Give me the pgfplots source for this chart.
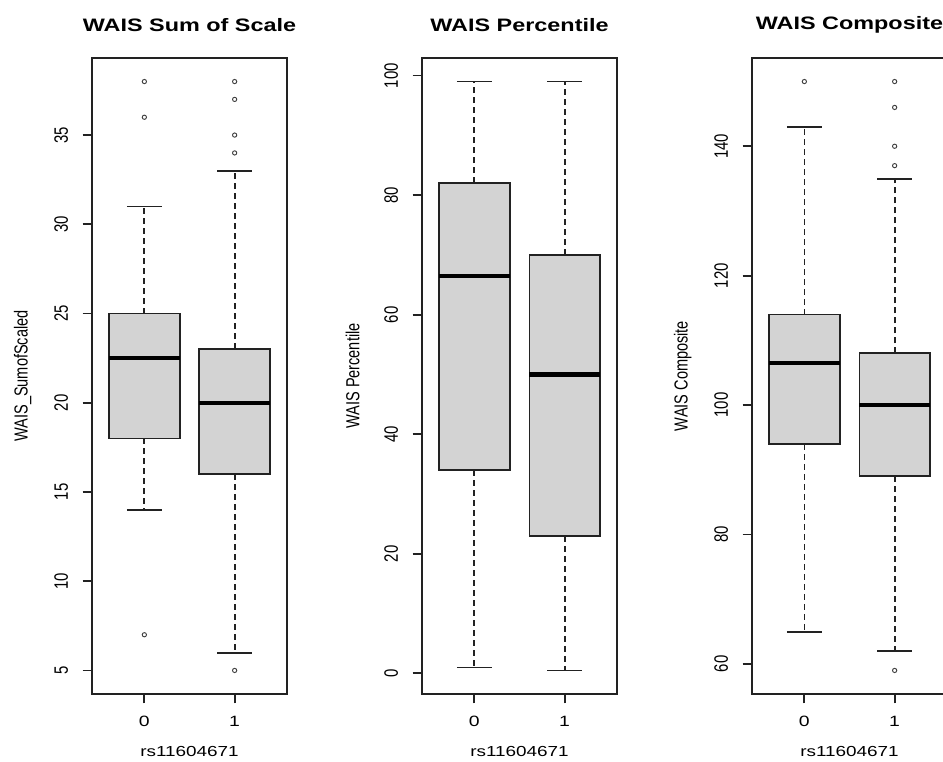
\documentclass[border=0pt]{standalone}
\usepackage{pgfplots}
\pgfplotsset{compat=1.18}
\usepackage{graphicx}
\usepackage{fontspec}
\setmainfont{Liberation Sans}
\definecolor{boxgray}{HTML}{D3D3D3}
\definecolor{framec}{HTML}{222222}
\newcommand{\hs}[1]{\scalebox{1.3}[1]{#1}}
\newcommand{\vs}[1]{\scalebox{1}[1.3]{#1}}

\pgfplotsset{
  rpanel/.style={
    scale only axis, width=146.25pt, height=477pt,
    anchor=south west,
    xmin=-0.58, xmax=1.58,
    xtick={0,1}, xticklabels={\hs{0},\hs{1}},
    tick pos=left, tick align=outside, major tick length=7pt,
    axis line style={line width=1.4pt, draw=framec},
    every tick/.style={line width=1.4pt, draw=framec},
    /pgf/number format/assume math mode=true,
    tick label style={font=\fontsize{11.2}{13}\selectfont},
    xticklabel style={yshift=-6pt},
    yticklabel={\vs{\pgfmathprintnumber{\tick}}},
    yticklabel style={xshift=-7.5pt, rotate=90, anchor=south},
    every axis title/.style={at={(axis description cs:0.5,1)}, anchor=center, yshift=24.75pt, font=\fontsize{13.5}{16}\selectfont\bfseries},
    every axis x label/.style={at={(axis description cs:0.5,0)}, anchor=center, yshift=-43.5pt, font=\fontsize{10.9}{13}\selectfont},
    every axis y label/.style={at={(axis description cs:0,0.5)}, rotate=90, anchor=center, yshift=52pt, font=\fontsize{10.9}{13}\selectfont},
    xlabel={\hs{rs11604671}},
  },
  boxst/.style={draw=framec, line width=1.4pt, fill=boxgray, line join=miter},
  medst/.style={draw=black, line width=3.2pt},
  whisk/.style={draw=framec, line width=1.3pt, dash pattern=on 4.5pt off 3pt},
  capst/.style={draw=framec, line width=1.4pt},
  outl/.style={only marks, mark=o, mark size=1.6pt, black!75, mark options={line width=0.7pt}},
}

% box at position #1: lower whisker #2, lower quartile #3, median #4, upper quartile #5, upper whisker #6
\newcommand{\rbox}[6]{%
  \pgfmathsetmacro\bL{#1-0.39}\pgfmathsetmacro\bR{#1+0.39}%
  \pgfmathsetmacro\kL{#1-0.195}\pgfmathsetmacro\kR{#1+0.195}%
  \edef\tmp{%
    \noexpand\addplot[boxst] coordinates {(\bL,#3) (\bR,#3) (\bR,#5) (\bL,#5)} --cycle;
    \noexpand\addplot[medst] coordinates {(\bL,#4) (\bR,#4)};
    \noexpand\addplot[whisk] coordinates {(#1,#5) (#1,#6)};
    \noexpand\addplot[whisk] coordinates {(#1,#3) (#1,#2)};
    \noexpand\addplot[capst] coordinates {(\kL,#6) (\kR,#6)};
    \noexpand\addplot[capst] coordinates {(\kL,#2) (\kR,#2)};
  }\tmp
}

\begin{document}
\begin{tikzpicture}
\useasboundingbox (0,0) rectangle (707.25pt,571.5pt);
\clip (0,0) rectangle (707.25pt,571.5pt);

% Panel 1
\begin{axis}[rpanel, at={(69pt,51pt)},
  ymin=3.68, ymax=39.32, ytick={5,10,15,20,25,30,35},
  title={\hs{WAIS Sum of Scale}}, ylabel={\vs{WAIS\_SumofScaled}}]
\rbox{0}{14}{18}{22.5}{25}{31}
\rbox{1}{6}{16}{20}{23}{33}
\addplot[outl] coordinates {(0,38) (0,36) (0,7) (1,38) (1,37) (1,35) (1,34) (1,5)};
\end{axis}

% Panel 2
\begin{axis}[rpanel, at={(316.5pt,51pt)},
  ymin=-3.44, ymax=102.94, ytick={0,20,40,60,80,100},
  title={\hs{WAIS Percentile}}, ylabel={\vs{WAIS Percentile}}]
\rbox{0}{1}{34}{66.5}{82}{99}
\rbox{1}{0.5}{23}{50}{70}{99}
\end{axis}

% Panel 3
\begin{axis}[rpanel, at={(564pt,51pt)},
  ymin=55.36, ymax=153.64, ytick={60,80,100,120,140},
  title={\hs{WAIS Composite}}, ylabel={\vs{WAIS Composite}}]
\rbox{0}{65}{94}{106.5}{114}{143}
\rbox{1}{62}{89}{100}{108}{135}
\addplot[outl] coordinates {(0,150) (1,150) (1,146) (1,140) (1,137) (1,59)};
\end{axis}
\end{tikzpicture}
\end{document}
